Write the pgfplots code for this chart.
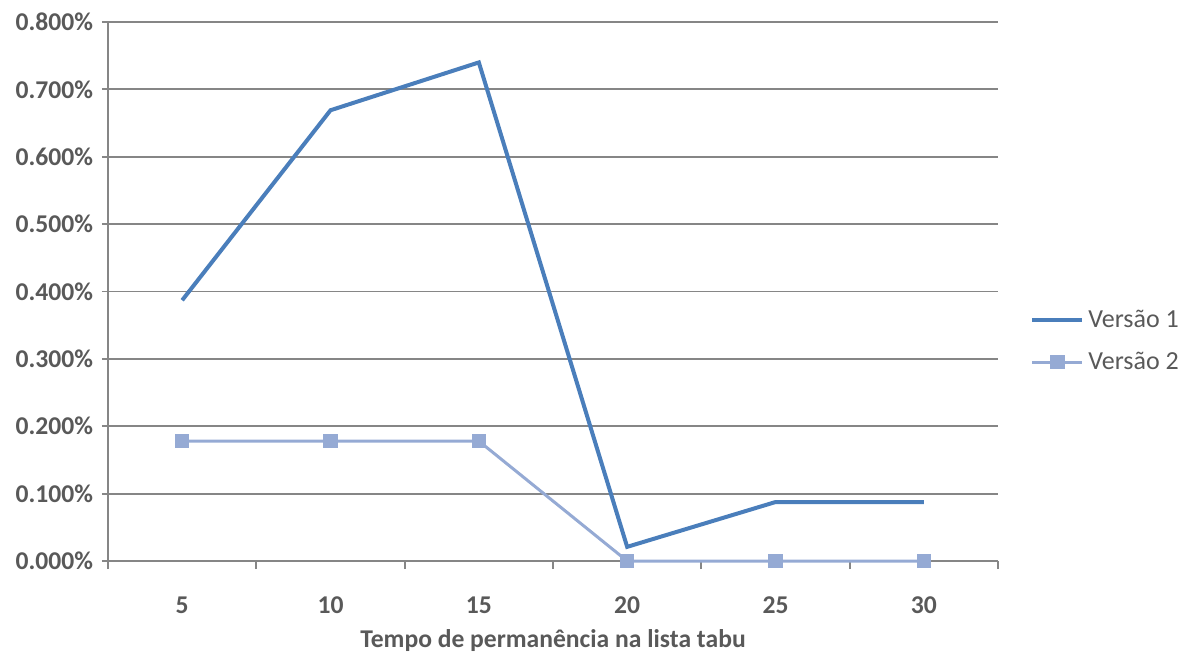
\documentclass[border=0pt]{standalone}
\usepackage{fontspec}
\setmainfont{Carlito}
\usepackage{pgfplots}
\pgfplotsset{compat=1.18}
\definecolor{vone}{RGB}{74,126,187}
\definecolor{vtwo}{RGB}{149,170,212}
\definecolor{gridc}{RGB}{134,134,134}
\definecolor{txt}{RGB}{89,89,89}
\begin{document}
\begin{tikzpicture}
\path[use as bounding box] (-54pt,-46pt) rectangle (538pt,280.5pt);
\begin{axis}[
  scale only axis,
  width=445pt, height=269.5pt,
  xmin=2.5, xmax=32.5,
  ymin=0, ymax=0.8,
  axis x line*=bottom, axis y line*=left,
  axis line style={gridc, line width=0.9pt, -},
  xtick={5,10,15,20,25,30},
  minor xtick={2.5,7.5,12.5,17.5,22.5,27.5,32.5},
  major x tick style={draw=none},
  minor x tick style={gridc, line width=0.9pt},
  minor tick length=4pt,
  ytick={0,0.1,...,0.8},
  major y tick style={gridc, line width=0.9pt},
  major tick length=3pt,
  tick align=outside,
  ymajorgrids,
  major grid style={gridc, line width=0.9pt},
  /pgf/number format/assume math mode=true,
  yticklabel={\pgfmathprintnumber[fixed,fixed zerofill,precision=3]{\tick}\%},
  ticklabel style={font=\fontsize{12.8}{14}\selectfont\bfseries, text=txt},
  xticklabel style={yshift=-11.5pt},
  yticklabel style={xshift=-1pt},
  xlabel={Tempo de permanência na lista tabu},
  xlabel style={font=\fontsize{12.8}{14}\selectfont\bfseries, text=txt, yshift=-1pt},
  clip=false,
  legend style={at={(1.036,0.408)}, anchor=west, draw=none, fill=none,
    font=\fontsize{13}{15}\selectfont, text=txt, row sep=7pt,
    inner sep=0pt},
  legend cell align=left,
  legend image code/.code={
    \draw[#1] (0pt,0pt) -- (25pt,0pt);
    \draw[#1, mark repeat=2, mark phase=2] plot coordinates {(0pt,0pt) (12.5pt,0pt) (25pt,0pt)};
  },
]
\addplot[color=vone, line width=2pt, no marks] coordinates {
  (5,0.387) (10,0.669) (15,0.740) (20,0.021) (25,0.0875) (30,0.0875)
};
\addlegendentry{Versão 1}
\addplot[color=vtwo, line width=1.5pt, mark=square*, mark size=3.3pt,
  mark options={fill=vtwo, draw=vtwo, line width=0pt}] coordinates {
  (5,0.178) (10,0.178) (15,0.178) (20,0) (25,0) (30,0)
};
\addlegendentry{Versão 2}
\end{axis}
\end{tikzpicture}
\end{document}
